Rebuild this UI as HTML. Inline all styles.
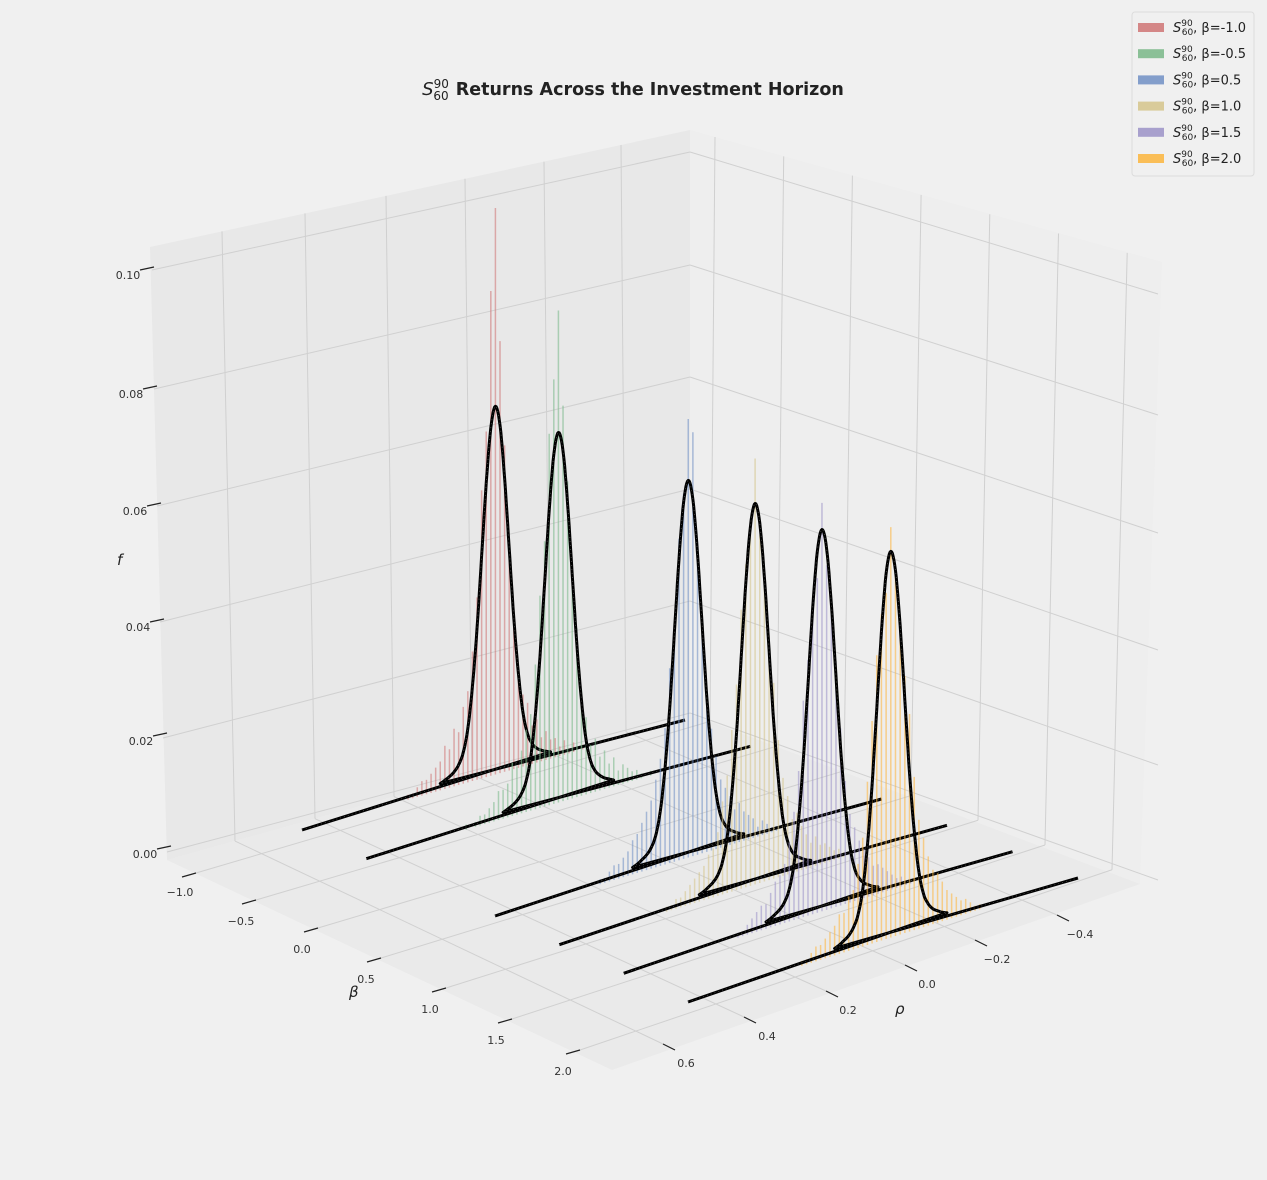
<!DOCTYPE html>
<html><head><meta charset="utf-8"><style>
html,body{margin:0;padding:0;background:#f0f0f0;}
svg{display:block;font-family:"DejaVu Sans","Liberation Sans",sans-serif;}
</style></head><body>
<svg id="chart" width="1267" height="1180" viewBox="0 0 1267 1180" xmlns="http://www.w3.org/2000/svg">
<rect width="1267" height="1180" fill="#f0f0f0"/>
<polygon points="150,247 690,130 690,714 167,860" fill="#e8e8e8"/>
<polygon points="690,130 1162,262 1140,884 690,714" fill="#eeeeee"/>
<polygon points="167,860 690,714 1140,884 612,1070" fill="#eaeaea"/>
<g id="grid" stroke="#d0d0d0" stroke-width="1" fill="none"></g>
<g id="series"></g>
<g id="ticks" font-size="11" fill="#333"></g>
<text x="633" y="95" text-anchor="middle" font-size="17.5" font-weight="bold" fill="#222"><tspan font-style="italic" font-weight="normal" font-size="18">S</tspan><tspan font-weight="normal" font-size="12" dy="-7">90</tspan><tspan font-weight="normal" font-size="12" dx="-15.5" dy="12">60</tspan><tspan dx="1" dy="-5"> Returns Across the Investment Horizon</tspan></text>
<text x="117" y="565" font-size="15" font-style="italic" fill="#222">f</text>
<text x="349" y="997" font-size="15" font-style="italic" fill="#222">β</text>
<text x="895" y="1014" font-size="15" font-style="italic" fill="#222">ρ</text>
<g id="legend">
<rect x="1132" y="12" width="122" height="164" rx="3" fill="#f0f0f0" stroke="#dcdcdc"/>
</g>
</svg>
<script>
const categories = ["β=-1.0","β=-0.5","β=0.5","β=1.0","β=1.5","β=2.0"];
const betaValues = [-1.0,-0.5,0.5,1.0,1.5,2.0];
const seriesMu = [0.095,0.100,0.100,0.095,0.090,0.080];
const binWidth = 0.012;
const barsRed = [0.000,0.001,0.000,0.002,0.001,0.003,0.002,0.004,0.004,0.006,0.005,0.009,0.008,0.013,0.015,0.021,0.030,0.044,0.068,0.090,0.118,0.101,0.072,0.060,0.038,0.027,0.019,0.016,0.011,0.012,0.008,0.009,0.006,0.005,0.004,0.003,0.003,0.002,0.001,0.001,0.000];
const barsGreen = [0.001,0.000,0.001,0.002,0.002,0.003,0.004,0.003,0.006,0.005,0.008,0.007,0.011,0.010,0.016,0.022,0.035,0.048,0.066,0.082,0.102,0.088,0.077,0.055,0.044,0.030,0.020,0.017,0.013,0.010,0.011,0.007,0.006,0.006,0.004,0.003,0.002,0.002,0.001,0.000,0.001];
const barsBlue = [0.000,0.001,0.001,0.002,0.003,0.002,0.004,0.005,0.006,0.008,0.007,0.010,0.012,0.014,0.019,0.025,0.033,0.047,0.060,0.087,0.090,0.075,0.066,0.048,0.040,0.028,0.022,0.018,0.014,0.012,0.010,0.008,0.007,0.005,0.004,0.003,0.003,0.002,0.001,0.001,0.000];
const barsTan = [0.000,0.001,0.002,0.002,0.003,0.004,0.004,0.006,0.005,0.007,0.009,0.012,0.011,0.016,0.020,0.028,0.040,0.050,0.063,0.071,0.087,0.072,0.066,0.057,0.042,0.033,0.024,0.019,0.013,0.010,0.009,0.007,0.006,0.005,0.004,0.003,0.002,0.002,0.001,0.001,0.000];
const barsPurple = [0.000,0.001,0.001,0.002,0.002,0.003,0.004,0.005,0.006,0.006,0.008,0.010,0.012,0.015,0.018,0.025,0.036,0.050,0.062,0.070,0.083,0.068,0.060,0.052,0.044,0.030,0.022,0.016,0.012,0.010,0.009,0.007,0.005,0.005,0.004,0.003,0.002,0.001,0.001,0.000,0.000];
const barsOrange = [0.000,0.001,0.001,0.002,0.003,0.003,0.004,0.005,0.006,0.008,0.010,0.011,0.014,0.018,0.022,0.031,0.044,0.052,0.062,0.074,0.083,0.070,0.066,0.058,0.045,0.033,0.022,0.017,0.012,0.011,0.008,0.008,0.006,0.005,0.004,0.003,0.003,0.002,0.001,0.001,0.000];
const curveRed = [0.0014,0.0018,0.0023,0.0030,0.0042,0.0065,0.0112,0.0197,0.0315,0.0463,0.0612,0.0725,0.0767,0.0725,0.0612,0.0463,0.0315,0.0197,0.0112,0.0065,0.0042,0.0030,0.0023,0.0018,0.0014];
const curveGreen = [0.0013,0.0018,0.0023,0.0031,0.0043,0.0066,0.0113,0.0198,0.0316,0.0464,0.0613,0.0726,0.0767,0.0724,0.0611,0.0462,0.0314,0.0196,0.0111,0.0064,0.0041,0.0029,0.0022,0.0017,0.0013];
const curveBlue = [0.0014,0.0018,0.0024,0.0031,0.0043,0.0066,0.0114,0.0199,0.0318,0.0468,0.0618,0.0732,0.0774,0.0732,0.0618,0.0468,0.0318,0.0199,0.0114,0.0066,0.0043,0.0031,0.0024,0.0018,0.0014];
const curveTan = [0.0014,0.0018,0.0024,0.0031,0.0043,0.0067,0.0115,0.0200,0.0320,0.0470,0.0621,0.0735,0.0778,0.0735,0.0621,0.0470,0.0320,0.0200,0.0115,0.0067,0.0043,0.0031,0.0024,0.0018,0.0014];
const curvePurple = [0.0014,0.0018,0.0024,0.0031,0.0043,0.0066,0.0114,0.0200,0.0319,0.0469,0.0620,0.0734,0.0776,0.0734,0.0620,0.0469,0.0319,0.0200,0.0114,0.0066,0.0043,0.0031,0.0024,0.0018,0.0014];
const curveOrange = [0.0014,0.0018,0.0024,0.0031,0.0044,0.0067,0.0115,0.0201,0.0321,0.0472,0.0624,0.0739,0.0781,0.0739,0.0624,0.0472,0.0321,0.0201,0.0115,0.0067,0.0044,0.0031,0.0024,0.0018,0.0014];
const rhoRange = [0.6,-0.4];
const fTickLabels = ["0.00","0.02","0.04","0.06","0.08","0.10"];
const betaTickLabels = ["−1.0","−0.5","0.0","0.5","1.0","1.5","2.0"];
const rhoTickLabels = ["0.6","0.4","0.2","0.0","−0.2","−0.4"];

const barSets = [barsRed,barsGreen,barsBlue,barsTan,barsPurple,barsOrange];
const curveSets = [curveRed,curveGreen,curveBlue,curveTan,curvePurple,curveOrange];
const colors = ["#d07b7b","#7fba8d","#7795c7","#d6c690","#a097c9","#fbb846"];
const NS = "http://www.w3.org/2000/svg";
function mk(tag, attrs, parent){const e=document.createElementNS(NS,tag);for(const k in attrs)e.setAttribute(k,attrs[k]);parent.appendChild(e);return e;}

function P(b, r, f){
  const t=(0.6-r)/1.0, u=(b+1)/3;
  const x=(1-u)*((1-t)*302+t*685)+u*((1-t)*688+t*1078);
  let y=(1-u)*((1-t)*830+t*720)+u*((1-t)*1002+t*878);
  y -= f*4800*(1+0.01*(b+1));
  return [x,y];
}

const grid=document.getElementById('grid');
function gl(x1,y1,x2,y2,name){const l=mk('line',{x1,y1,x2,y2},grid);}
const lwL=[852,738,622,506,389,270], lwLx=[167,163,160,157,154,152], lwR=[713,601,489,377,265,152];
for(let i=0;i<6;i++) gl(lwLx[i],lwL[i],690,lwR[i],'left-wall-gridline');
const rwR=[880,765,650,533,415,294];
for(let i=0;i<6;i++) gl(690,lwR[i],1158,rwR[i],'right-wall-gridline');
const lvTop=[222,305,386,465,544,621], lvBot=[235,315,394,472,550,626];
const lvFront=[[663,1044],[744,1017],[826,991],[905,965],[975,940],[1057,915]];
for(let i=0;i<6;i++){
  const yt=247-(lvTop[i]-150)*0.2167, yb=860-(lvBot[i]-167)*0.2792;
  gl(lvTop[i],yt,lvBot[i],yb,'left-wall-vertical-gridline');
  gl(lvBot[i],yb,lvFront[i][0],lvFront[i][1],'floor-rho-gridline');
}
const bFront=[[196,873],[256,900],[318,928],[381,958],[446,988],[512,1019],[580,1050]];
for(let i=0;i<7;i++){
  const xt=715+68.7*i, xb=710+67*i;
  const yt=130+(xt-690)*0.281, yb=714+(xb-690)*0.369;
  gl(xt,yt,xb,yb,'right-wall-vertical-gridline');
  gl(xb,yb,bFront[i][0],bFront[i][1],'floor-beta-gridline');
}

const layer=document.getElementById('series');
function catmull(pts,n){const out=[];for(let i=0;i<pts.length-1;i++){const p0=pts[Math.max(0,i-1)],p1=pts[i],p2=pts[i+1],p3=pts[Math.min(pts.length-1,i+2)];for(let s=0;s<n;s++){const t=s/n,t2=t*t,t3=t2*t;out.push(p1.map((_,k)=>0.5*((2*p1[k])+(-p0[k]+p2[k])*t+(2*p0[k]-5*p1[k]+4*p2[k]-p3[k])*t2+(-p0[k]+3*p1[k]-3*p2[k]+p3[k])*t3)));}}out.push(pts[pts.length-1]);return out;}
for(let s=0;s<categories.length;s++){
  const b=betaValues[s], mu=seriesMu[s];
  const g=mk('g',{},layer);
  
  
  const bars=barSets[s], nb=bars.length, half=(nb-1)/2;
  for(let k=0;k<nb;k++){
    if(bars[k]<=0) continue;
    const r=mu+(k-half)*binWidth;
    const [x0,y0]=P(b,r,0), [x1,y1]=P(b,r,bars[k]);
    const l=mk('line',{x1:x0,y1:y0,x2:x1,y2:y1,stroke:colors[s],'stroke-width':1.5,'stroke-opacity':0.6},g);
    
    
  }
  const cv=curveSets[s], nc=cv.length, hc=(nc-1)/2;
  let pts=[];
  for(let k=0;k<nc;k++) pts.push([mu+(k-hc)*binWidth, cv[k]]);
  pts=catmull(pts,6);
  const all=[[rhoRange[0],0],...pts,[rhoRange[1],0]];
  const d=all.map((p,i)=>{const q=P(b,p[0],p[1]);return (i?'L':'M')+q[0].toFixed(1)+','+q[1].toFixed(1);}).join(' ');
  const c1=mk('path',{d,fill:'none',stroke:'#000','stroke-width':3,'stroke-linejoin':'round'},g);
  
  
  const c2=mk('path',{d,fill:'none',stroke:'#fff','stroke-width':0.8,'stroke-dasharray':'1,3','stroke-opacity':0.3},g);
  
  
}

const tk=document.getElementById('ticks');
const fPos=[[147,854],[143,741],[140,627],[137,511],[133,394],[130,275]];
for(let i=0;i<fTickLabels.length;i++){
  const [x,y]=fPos[i];
  const m=mk('line',{x1:x+10,y1:y-5,x2:x+24,y2:y-8,stroke:'#222','stroke-width':1.2},tk);
  
  
  const t=mk('text',{x:x-2,y:y+4,'text-anchor':'middle'},tk);t.textContent=fTickLabels[i];
  
  
}
const bPos=[[180,896],[241,925],[302,953],[366,983],[430,1013],[496,1044],[563,1075]];
for(let i=0;i<betaTickLabels.length;i++){
  const [x,y]=bPos[i];
  const m=mk('line',{x1:bFront[i][0]-14,y1:bFront[i][1]+4,x2:bFront[i][0],y2:bFront[i][1],stroke:'#222','stroke-width':1.2},tk);
  
  
  const t=mk('text',{x,y,'text-anchor':'middle'},tk);t.textContent=betaTickLabels[i];
  
  
}
const rPos=[[686,1067],[767,1040],[848,1014],[927,988],[997,963],[1080,938]];
for(let i=0;i<rhoTickLabels.length;i++){
  const [x,y]=rPos[i];
  const m=mk('line',{x1:lvFront[i][0],y1:lvFront[i][1],x2:lvFront[i][0]+12,y2:lvFront[i][1]+6,stroke:'#222','stroke-width':1.2},tk);
  
  
  const t=mk('text',{x,y,'text-anchor':'middle'},tk);t.textContent=rhoTickLabels[i];
  
  
}

const lg=document.getElementById('legend');
for(let i=0;i<categories.length;i++){
  const y=27+26.2*i;
  const e=mk('g',{},lg);
  
  
  const r=mk('rect',{x:1138,y:y-4,width:26,height:9,fill:colors[i],'fill-opacity':0.9},e);
  
  
  const t=mk('text',{x:1173,y:y+5,'font-size':13,fill:'#222'},e);
  
  
  t.innerHTML='<tspan font-style="italic">S</tspan><tspan font-size="9" dy="-6">90</tspan><tspan font-size="9" dx="-11" dy="9">60</tspan><tspan dy="-3">, '+categories[i]+'</tspan>';
}
</script>
</body></html>
